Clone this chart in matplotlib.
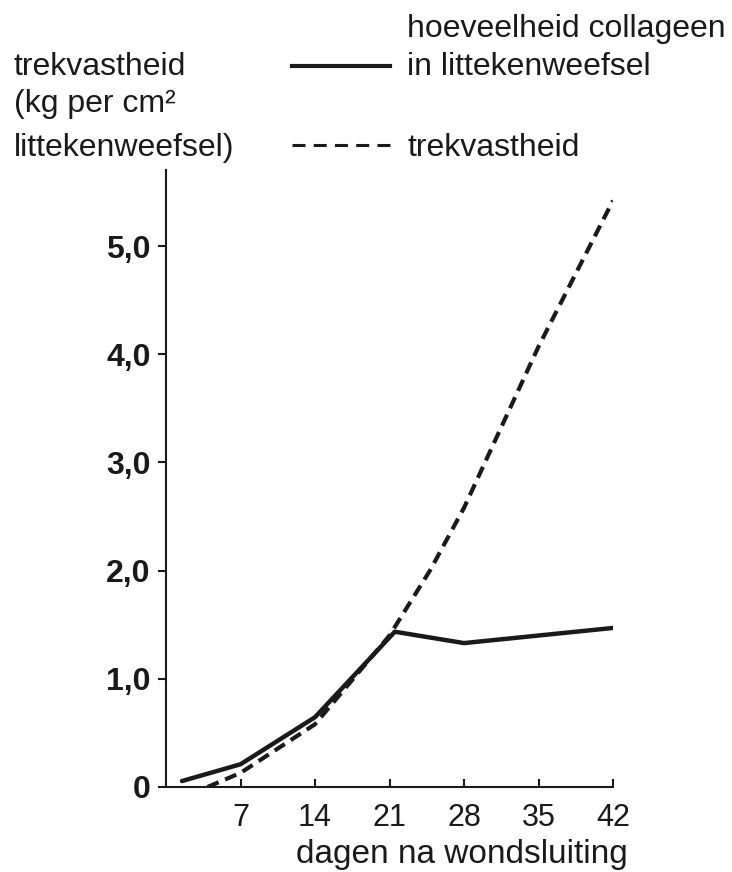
import matplotlib
matplotlib.use("Agg")
import matplotlib.pyplot as plt
from matplotlib.lines import Line2D

# ---- data ----
collagen_days = [1.5, 7, 14, 21.5, 28, 42]
collagen_vals = [0.055, 0.21, 0.645, 1.435, 1.33, 1.47]

strength_days = [3.9, 7, 14, 21, 24.8, 28, 35, 42]
strength_vals = [0.0, 0.13, 0.58, 1.40, 2.0, 2.58, 4.07, 5.42]

x_ticks = [7, 14, 21, 28, 35, 42]
x_ticklabels = ["7", "14", "21", "28", "35", "42"]
y_ticks = [0, 1, 2, 3, 4, 5]
y_ticklabels = ["0", "1,0", "2,0", "3,0", "4,0", "5,0"]

W, H = 732, 872
FONT = ["Liberation Sans", "DejaVu Sans"]
plt.rcParams["font.family"] = FONT

fig = plt.figure(figsize=(W / 100, H / 100), dpi=100)

def fx(x):
    return x / W

def fy(y):
    return 1 - y / H

left, right, top, bottom = 166, 613, 170, 787
ax = fig.add_axes([fx(left), fy(bottom), (right - left) / W, (bottom - top) / H])

ax.plot(collagen_days, collagen_vals, color="#1a1a1a", lw=3.2, solid_joinstyle="round",
        solid_capstyle="round")
ax.plot(strength_days, strength_vals, color="#1a1a1a", lw=3.0, linestyle=(0, (2.9, 1.7)))

ax.set_xlim(0, 42)
ax.set_ylim(0, (bottom - top) / 108.2)

for s in ["top", "right"]:
    ax.spines[s].set_visible(False)
for s in ["left", "bottom"]:
    ax.spines[s].set_linewidth(1.5)
    ax.spines[s].set_color("#1a1a1a")

ax.set_xticks(x_ticks)
ax.set_xticklabels(x_ticklabels, fontsize=22)
ax.set_yticks(y_ticks)
ax.set_yticklabels(y_ticklabels, fontsize=23, fontweight="bold")
ax.tick_params(axis="x", direction="in", length=6, width=1.5, pad=11.5, colors="#1a1a1a")
ax.tick_params(axis="y", direction="out", length=6, width=1.5, pad=5.0, colors="#1a1a1a")

txt = dict(fontsize=23, color="#1a1a1a", va="baseline", ha="left")
fig.text(fx(14), fy(75), "trekvastheid", **txt)
fig.text(fx(14), fy(112), "(kg per cm²", **txt)
fig.text(fx(14), fy(156), "littekenweefsel)", **txt)
fig.text(fx(407), fy(37), "hoeveelheid collageen", **txt)
fig.text(fx(407), fy(75), "in littekenweefsel", **txt)
fig.text(fx(407), fy(156), "trekvastheid", **txt)

fig.text(fx(462), fy(863), "dagen na wondsluiting", fontsize=24, color="#1a1a1a",
         va="baseline", ha="center")

fig.add_artist(Line2D([fx(292), fx(390)], [fy(66.5), fy(66.5)], color="#1a1a1a", lw=3.0))
fig.add_artist(Line2D([fx(292), fx(390)], [fy(145), fy(145)], color="#1a1a1a", lw=2.2,
                      linestyle=(0, (4.25, 2.7))))

fig.savefig("out.png", dpi=100)
